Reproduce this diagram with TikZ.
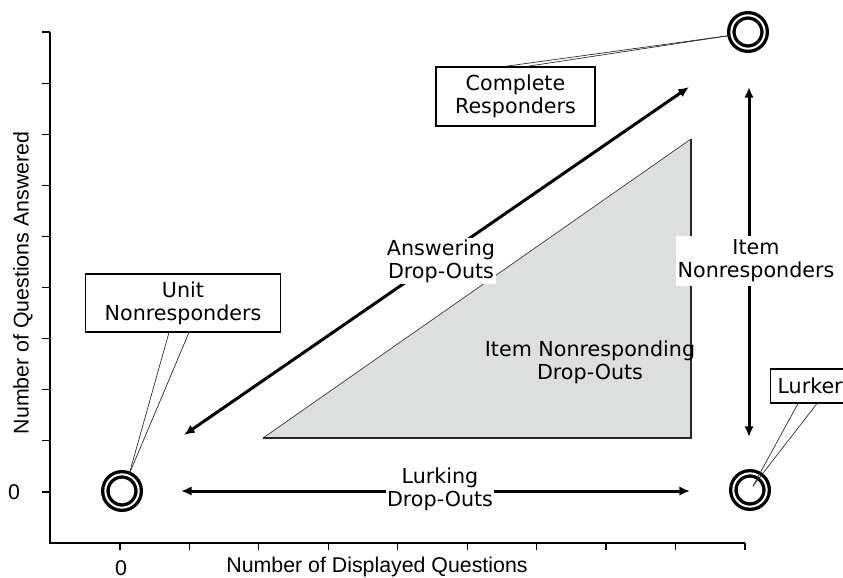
\documentclass[tikz,border=0pt]{standalone}
\usepackage{fontspec}
\setmainfont{DejaVu Sans}
\newfontfamily\axisfont{Liberation Sans}
\usepackage{tikz}
\usetikzlibrary{arrows.meta, shapes.geometric}
\definecolor{trigray}{RGB}{221,223,222}
\tikzstyle{callout} = [rectangle, draw=black, line width=0.8pt, fill=white, align=center, inner sep=0pt, font=\fontsize{15.5pt}{17.25pt}\selectfont]
\tikzstyle{ring} = [circle, draw=black, line width=2.5pt, double=white, double distance=1.5pt, minimum size=25pt, inner sep=0pt]
\tikzstyle{arrow} = [line width=2.25pt, {Latex[length=8pt,width=7pt]}-{Latex[length=8pt,width=7pt]}]
\tikzstyle{tag} = [fill=white, align=center, inner sep=1pt, font=\fontsize{15.5pt}{17.25pt}\selectfont]
\tikzstyle{axislabel} = [inner sep=0pt, font=\axisfont\fontsize{16pt}{18pt}\selectfont]
\tikzstyle{pointer} = [draw=black!85, line width=0.5pt]
\begin{document}
\begin{tikzpicture}[x=0.75pt, y=-0.75pt]
    \useasboundingbox (0,0) rectangle (843,578);
    \clip (0,0) rectangle (843,578);
    % grey area
    \fill [trigray] (263,438) -- (691,139) -- (691,438) -- cycle;
    \draw [black!80, line width=0.5pt] (263,438) -- (691,139);
    \draw [black!85, line width=1pt] (691,139) -- (691,438) -- (263,438);
    \node (inrTag) [align=center, font=\fontsize{15.5pt}{17.25pt}\selectfont] at (590,362) {Item Nonresponding\\Drop-Outs};
    % axes
    \draw [line width=0.9pt] (50,32) -- (50,543) -- (745,543);
    \foreach \k in {0,...,9}
        \draw [line width=0.9pt] (42,32+51.1*\k) -- (50,32+51.1*\k);
    \foreach \k in {0,...,9}
        \draw [line width=0.9pt] (120+69.44*\k,543) -- (120+69.44*\k,550);
    \node (ylab) [axislabel, rotate=90] at (23,283) {Number of Questions Answered};
    \node (xlab) [axislabel] at (377,567) {Number of Displayed Questions};
    \node (y0) [axislabel] at (14,492) {0};
    \node (x0) [axislabel] at (121,568) {0};
    % arrow ends
    \coordinate (ansLow) at (184,435);
    \coordinate (ansHigh) at (689,87);
    \coordinate (itemTop) at (749,87);
    \coordinate (itemBot) at (749,437);
    \coordinate (lurkLeft) at (181,491);
    \coordinate (lurkRight) at (690,491);
    \draw [arrow] (ansLow) -- (ansHigh);
    \draw [arrow] (itemTop) -- (itemBot);
    \draw [arrow] (lurkLeft) -- (lurkRight);
    \node (ansTag) [tag] at (441,261) {Answering\\Drop-Outs};
    \node (lurkTag) [tag, inner sep=0.5pt] at (440,489) {Lurking\\Drop-Outs};
    \node (itemTag) [tag, inner xsep=1.5pt, inner ysep=2.5pt] at (756,261) {Item\\Nonresponders};
    % respondent types
    \node (unit) [ring] at (122,491) {};
    \node (com) [ring] at (748,32) {};
    \node (lurk) [ring] at (750,490) {};
    \node (unitBox) [callout, minimum width=146.25pt, minimum height=43.5pt] at (183,303) {Unit\\Nonresponders};
    \node (comBox) [callout, minimum width=119.25pt, minimum height=44.25pt] at (515.5,96.5) {Complete\\Responders};
    \node (lurkBox) [callout, anchor=west, inner xsep=5.25pt, minimum height=25.5pt] at (770,386) {Lurkers};
    \draw [pointer] ([xshift=63pt]unitBox.south west) -- (unit.67);
    \draw [pointer] ([xshift=78pt]unitBox.south west) -- (unit.67);
    \draw [pointer] ([xshift=51.75pt]comBox.north west) -- (com.191);
    \draw [pointer] ([xshift=68.25pt]comBox.north west) -- (com.191);
    \draw [pointer] ([xshift=21pt]lurkBox.south west) -- ([xshift=2.25pt,yshift=3pt]lurk.center);
    \draw [pointer] ([xshift=35.25pt]lurkBox.south west) -- ([xshift=2.25pt,yshift=3pt]lurk.center);
\end{tikzpicture}
\end{document}
